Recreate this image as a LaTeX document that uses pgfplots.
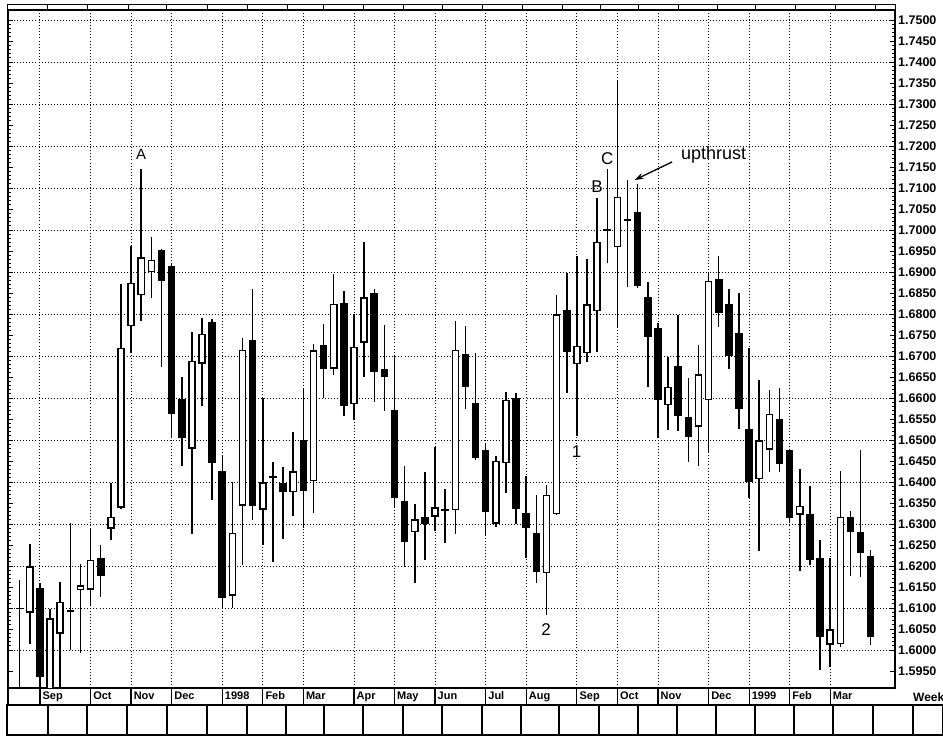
\documentclass[border=0pt]{standalone}
\usepackage{fontspec}
\setmainfont{Liberation Sans}
\usepackage{pgfplots}
\usepackage{pgfplotstable}
\pgfplotsset{compat=1.18}
\usetikzlibrary{arrows.meta}

\pgfplotstableread{
i O H L C
0 1.6100 1.6167 1.5880 1.6098
1 1.6089 1.6252 1.6015 1.6200
2 1.6148 1.6160 1.5880 1.5936
3 1.5880 1.6098 1.5860 1.6076
4 1.6039 1.6161 1.5880 1.6115
5 1.6093 1.6302 1.6000 1.6094
6 1.6143 1.6204 1.5992 1.6154
7 1.6143 1.6290 1.6105 1.6215
8 1.6218 1.6250 1.6127 1.6177
9 1.6288 1.6397 1.6262 1.6317
10 1.6338 1.6871 1.6335 1.6719
11 1.6771 1.6961 1.6706 1.6874
12 1.6844 1.7145 1.6784 1.6935
13 1.6899 1.6983 1.6838 1.6929
14 1.6952 1.6955 1.6674 1.6878
15 1.6915 1.6918 1.6505 1.6562
16 1.6598 1.6649 1.6437 1.6505
17 1.6479 1.6756 1.6275 1.6689
18 1.6681 1.6790 1.6580 1.6753
19 1.6781 1.6787 1.6356 1.6445
20 1.6425 1.6463 1.6100 1.6124
21 1.6129 1.6399 1.6100 1.6279
22 1.6344 1.6743 1.6203 1.6715
23 1.6737 1.6860 1.6310 1.6344
24 1.6334 1.6599 1.6250 1.6400
25 1.6410 1.6448 1.6210 1.6412
26 1.6398 1.6436 1.6264 1.6375
27 1.6375 1.6519 1.6318 1.6426
28 1.6501 1.6621 1.6290 1.6379
29 1.6402 1.6729 1.6327 1.6713
30 1.6726 1.6776 1.6601 1.6670
31 1.6670 1.6894 1.6654 1.6824
32 1.6827 1.6854 1.6557 1.6581
33 1.6585 1.6800 1.6548 1.6722
34 1.6731 1.6972 1.6651 1.6840
35 1.6851 1.6860 1.6590 1.6662
36 1.6670 1.6774 1.6569 1.6649
37 1.6571 1.6699 1.6338 1.6362
38 1.6354 1.6439 1.6198 1.6258
39 1.6280 1.6347 1.6160 1.6311
40 1.6317 1.6424 1.6215 1.6300
41 1.6317 1.6484 1.6283 1.6340
42 1.6333 1.6384 1.6255 1.6336
43 1.6333 1.6784 1.6277 1.6715
44 1.6705 1.6772 1.6573 1.6625
45 1.6589 1.6707 1.6452 1.6456
46 1.6476 1.6491 1.6271 1.6329
47 1.6300 1.6462 1.6293 1.6450
48 1.6444 1.6615 1.6374 1.6596
49 1.6601 1.6611 1.6300 1.6336
50 1.6327 1.6414 1.6219 1.6291
51 1.6279 1.6368 1.6160 1.6185
52 1.6183 1.6394 1.6084 1.6370
53 1.6323 1.6845 1.6322 1.6800
54 1.6810 1.6897 1.6611 1.6710
55 1.6680 1.6937 1.6510 1.6724
56 1.6706 1.6930 1.6686 1.6823
57 1.6806 1.7075 1.6710 1.6972
58 1.7000 1.7144 1.6921 1.7001
59 1.6959 1.7356 1.6770 1.7079
60 1.7027 1.7119 1.6865 1.7021
61 1.7044 1.7110 1.6862 1.6867
62 1.6840 1.6877 1.6627 1.6746
63 1.6766 1.6778 1.6504 1.6595
64 1.6583 1.6698 1.6524 1.6627
65 1.6676 1.6798 1.6522 1.6558
66 1.6554 1.6647 1.6448 1.6508
67 1.6532 1.6726 1.6437 1.6657
68 1.6594 1.6897 1.6472 1.6879
69 1.6883 1.6938 1.6770 1.6802
70 1.6823 1.6860 1.6670 1.6700
71 1.6754 1.6851 1.6525 1.6573
72 1.6527 1.6720 1.6362 1.6399
73 1.6406 1.6642 1.6235 1.6499
74 1.6477 1.6619 1.6423 1.6562
75 1.6550 1.6624 1.6423 1.6444
76 1.6476 1.6478 1.6302 1.6314
77 1.6322 1.6431 1.6189 1.6344
78 1.6324 1.6390 1.6203 1.6213
79 1.6219 1.6261 1.5952 1.6032
80 1.6012 1.6219 1.5960 1.6049
81 1.6014 1.6425 1.6008 1.6317
82 1.6317 1.6332 1.6177 1.6280
83 1.6280 1.6476 1.6173 1.6232
84 1.6224 1.6237 1.6012 1.6032
}\candles

\begin{document}
\begin{tikzpicture}[x=1pt,y=1pt]
\path[use as bounding box] (0,0) rectangle (943,736);

% main price panel
\begin{axis}[
  at={(8pt,48pt)}, anchor=south west,
  scale only axis, width=887pt, height=678pt,
  xmin=-1.15, xmax=86.4, ymin=1.59095, ymax=1.75238,
  axis line style={line width=1.5pt},
  xtick={2,7,11,15,20,24,28,33,37,41,46,50,55,59,63,68,72,76,80},
  xticklabels={Sep,Oct,Nov,Dec,1998,Feb,Mar,Apr,May,Jun,Jul,Aug,Sep,Oct,Nov,Dec,1999,Feb,Mar},
  xtick style={draw=none},
  xticklabel style={font=\bfseries\fontsize{11}{13}\selectfont, anchor=north west, inner sep=1pt, xshift=1.5pt, yshift=-2.5pt},
  ytick={1.60,1.61,1.62,1.63,1.64,1.65,1.66,1.67,1.68,1.69,1.70,1.71,1.72,1.73,1.74,1.75},
  extra y ticks={1.595,1.605,1.615,1.625,1.635,1.645,1.655,1.665,1.675,1.685,1.695,1.705,1.715,1.725,1.735,1.745},
  extra y tick style={grid=none},
  minor y tick num=9,
  ytick pos=both, yticklabel pos=right, ytick align=inside,
  major tick length=5pt, minor tick length=3pt,
  y tick style={black, line width=0.8pt},
  scaled y ticks=false,
  yticklabel style={font=\bfseries\fontsize{12.5}{14}\selectfont, anchor=west, inner sep=0pt, xshift=3pt,
    /pgf/number format/.cd, fixed, fixed zerofill, precision=4, assume math mode=true},
  grid=major,
  major grid style={black, line width=0.85pt, dash pattern=on 0.85pt off 2.2pt},
]
% wicks
\addplot[forget plot, draw=none, mark=none,
  error bars/.cd, y dir=both, y explicit, error mark=none,
  error bar style={draw=black, line width=1.5pt, solid}]
  table[x=i, y expr={(\thisrow{H}+\thisrow{L})/2}, y error expr={(\thisrow{H}-\thisrow{L})/2}] {\candles};
% bodies (outline / black fill)
\addplot[forget plot, draw=none, mark=none,
  error bars/.cd, y dir=both, y explicit, error mark=none,
  error bar style={draw=black, line width=7.6pt, solid}]
  table[x=i, y expr={(\thisrow{O}+\thisrow{C})/2}, y error expr={max(abs(\thisrow{C}-\thisrow{O})/2,0.0002)}] {\candles};
% hollow interior of rising weeks (falling weeks and dojis are sent far below the axis)
\addplot[forget plot, draw=none, mark=none,
  error bars/.cd, y dir=both, y explicit, error mark=none,
  error bar style={draw=white, line width=4.6pt, solid}]
  table[x=i,
    y expr={(\thisrow{C}-\thisrow{O}>0.0008)*((\thisrow{O}+\thisrow{C})/2) + (1-(\thisrow{C}-\thisrow{O}>0.0008))*1.0},
    y error expr={(\thisrow{C}-\thisrow{O}>0.0008)*((\thisrow{C}-\thisrow{O})/2-0.00036) + (1-(\thisrow{C}-\thisrow{O}>0.0008))*0.001}] {\candles};

\node[font=\fontsize{15}{17}\selectfont] at (axis cs:12,1.7179) {A};
\node[font=\fontsize{17}{19}\selectfont] at (axis cs:57,1.7102) {B};
\node[font=\fontsize{17}{19}\selectfont] at (axis cs:58,1.7169) {C};
\node[font=\fontsize{17}{19}\selectfont] at (axis cs:54.97,1.6472) {1};
\node[font=\fontsize{17}{19}\selectfont] at (axis cs:51.96,1.6049) {2};
\node[font=\fontsize{18}{20}\selectfont] at (axis cs:68.5,1.7179) {upthrust};
\draw[-{Stealth[length=9pt,width=6pt]}, line width=1.3pt] (axis cs:64.4,1.7162) -- (axis cs:60.7,1.7119);
\end{axis}

% month label row
\begin{axis}[
  at={(8pt,31pt)}, anchor=south west,
  scale only axis, width=887pt, height=17pt,
  xmin=-1.15, xmax=86.4, ymin=0, ymax=1,
  axis lines*=left, axis line style={line width=1.2pt},
  xtick={2,7,11,15,20,24,28,33,37,41,46,50,55,59,63,68,72,76,80},
  xticklabels={}, xtick style={draw=none}, ytick=\empty,
  xmajorgrids, major grid style={black, solid, line width=1.2pt},
]
\end{axis}

% empty lower panel
\begin{axis}[
  at={(7pt,1pt)}, anchor=south west,
  scale only axis, width=936pt, height=30pt,
  xmin=7, xmax=943, ymin=0, ymax=1,
  axis line style={line width=1.2pt},
  xtick={48,87,127,167,207,247,286,324,363,403,442,482,521,559,599,638,677,716,755,794,833,873,913},
  xticklabels={}, xtick style={draw=none}, ytick=\empty,
  xmajorgrids, major grid style={black, solid, line width=1.2pt},
]
\end{axis}

% thin upper strip
\begin{axis}[
  at={(7pt,726pt)}, anchor=south west,
  scale only axis, width=888pt, height=5pt,
  xmin=7, xmax=895, ymin=0, ymax=1,
  axis line style={line width=1pt},
  xtick={47,87,128,166,207,247,287,323,363,403,442,482,522,562,600,638,678,717,755,795,835,875},
  xticklabels={}, xtick style={draw=none}, ytick=\empty,
  xmajorgrids, major grid style={black, solid, line width=1pt},
]
\end{axis}

\node[anchor=west, font=\bfseries\fontsize{12}{14}\selectfont, inner sep=0pt] at (913,39) {Week};
\end{tikzpicture}
\end{document}
